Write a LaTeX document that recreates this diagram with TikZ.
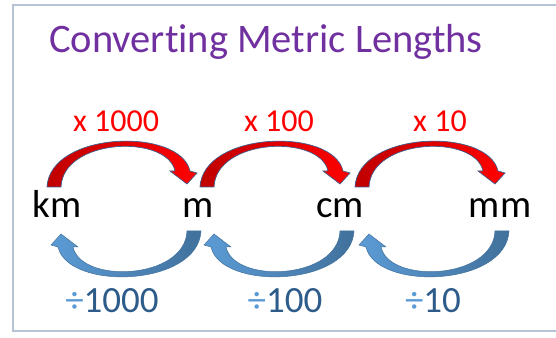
\documentclass[tikz,border=0pt]{standalone}
\usepackage{fontspec}
\setmainfont{Carlito}[Ligatures=NoCommon]
\usetikzlibrary{positioning}

\definecolor{titlepurple}{HTML}{7030A0}
\definecolor{framegray}{HTML}{B4C4D6}
\definecolor{arrowedge}{HTML}{3F5F8C}
\definecolor{darkred}{HTML}{C00000}
\definecolor{lightblue}{HTML}{5B9BD5}
\definecolor{deepblue}{HTML}{41719C}
\definecolor{labelblue}{HTML}{2E5C8A}

% one curved block arrow, centred on the origin
\newcommand{\bentarrow}{
  (-77,22) .. controls (-74,78) and (56,82) .. (66,38)
  -- (73,36) -- (63,25) -- (46,38) -- (51,38)
  .. controls (43,75) and (-61,71) .. (-63,22) -- cycle
}

\begin{document}
\begin{tikzpicture}[
  x=1pt, y=1pt,
  title/.style={font=\fontsize{40.5}{44}\selectfont, text=titlepurple, inner sep=0pt},
  unit/.style={font=\fontsize{39}{42}\selectfont, inner sep=0pt},
  times/.style={font=\fontsize{32}{36}\selectfont, text=red, inner sep=0pt},
  divide/.style={font=\fontsize{37}{40}\selectfont, text=labelblue, inner sep=0pt},
  redarrow/.style={left color=darkred, right color=red, draw=arrowedge, line width=0.7pt},
  bluearrow/.style={left color=lightblue, right color=deepblue, draw=deepblue, line width=0.5pt}
]
  \useasboundingbox (0,0) rectangle (556,337);
  \begin{scope}
    \clip (0,0) rectangle (556,337);
    \draw[framegray, line width=2pt] (13,6) rectangle (580,332);
  \end{scope}

  \node[title, anchor=base] (title) at (266,284) {Converting Metric Lengths};

  % units
  \node[unit, anchor=base] (km) at (57,119) {km};
  \node[unit, anchor=base] (m)  at (198,119) {m};
  \node[unit, anchor=base] (cm) at (340,119) {cm};
  \node[unit, anchor=base] (mm) at (500,119) {mm};

  % curved arrows between neighbouring units
  \foreach \cx in {124,277,432} {
    \begin{scope}[shift={(\cx,128)}]
      \path[redarrow] \bentarrow;
      \path[bluearrow, rotate=180] \bentarrow;
    \end{scope}
  }

  % factors
  \node[times, anchor=base] (t1) at (116,205) {x 1000};
  \node[times, anchor=base] (t2) at (279,205) {x 100};
  \node[times, anchor=base] (t3) at (440,205) {x 10};
  \node[divide, anchor=base] (d1) at (112,24) {\textcolor{lightblue}{÷}1000};
  \node[divide, anchor=base] (d2) at (285,24) {\textcolor{lightblue}{÷}100};
  \node[divide, anchor=base] (d3) at (433,24) {\textcolor{lightblue}{÷}10};
\end{tikzpicture}
\end{document}
